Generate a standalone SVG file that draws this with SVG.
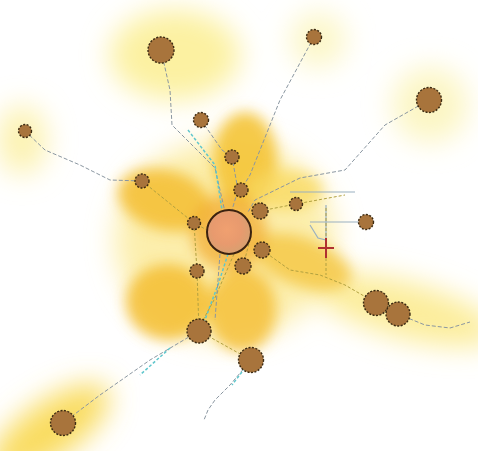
<svg xmlns="http://www.w3.org/2000/svg" width="478" height="451" viewBox="0 0 478 451">
<defs>
<filter id="blur" x="-50%" y="-50%" width="200%" height="200%"><feGaussianBlur stdDeviation="14"/></filter>
<filter id="blur2" x="-50%" y="-50%" width="200%" height="200%"><feGaussianBlur stdDeviation="7"/></filter>
<radialGradient id="cg" cx="0.45" cy="0.45" r="0.55"><stop offset="0" stop-color="#f0a070"/><stop offset="0.6" stop-color="#e89a6e"/><stop offset="1" stop-color="#d8a070"/></radialGradient>
<style>
.n{fill:#a8743c;stroke:#3b2a12;stroke-width:1.4;stroke-dasharray:2 1.5}
.e{fill:none;stroke:#8a96a0;stroke-width:1;stroke-dasharray:4 2}
.c{fill:none;stroke:#5fc6cc;stroke-width:1.5;stroke-dasharray:3 2}
.g{fill:none;stroke:#b0a040;stroke-width:1;stroke-dasharray:3 2}
.b{fill:none;stroke:#9ab0c0;stroke-width:1.2}
</style>
</defs>
<rect width="478" height="451" fill="#ffffff"/>
<g id="glow">
<g filter="url(#blur)">
<ellipse cx="175" cy="55" rx="65" ry="45" fill="#fbee90" opacity="0.85"/>
<ellipse cx="22" cy="140" rx="25" ry="35" fill="#fbee98" opacity="0.75"/>
<ellipse cx="318" cy="40" rx="28" ry="28" fill="#fbf3b0" opacity="0.7"/>
<ellipse cx="430" cy="105" rx="38" ry="38" fill="#fbf3b0" opacity="0.75"/>
<ellipse cx="50" cy="430" rx="70" ry="28" fill="#f8d850" opacity="0.9" transform="rotate(-35 50 430)"/>
<ellipse cx="405" cy="310" rx="95" ry="28" fill="#fbea88" opacity="0.85" transform="rotate(15 405 310)"/>
<ellipse cx="225" cy="240" rx="110" ry="100" fill="#fbe890" opacity="0.75"/>
</g>
<g filter="url(#blur2)">
<ellipse cx="245" cy="160" rx="32" ry="48" fill="#f4c438" opacity="0.9"/>
<ellipse cx="165" cy="200" rx="48" ry="30" fill="#f4c038" opacity="0.9" transform="rotate(15 165 200)"/>
<ellipse cx="168" cy="302" rx="42" ry="38" fill="#f4c038" opacity="0.9"/>
<ellipse cx="242" cy="310" rx="34" ry="42" fill="#f4c038" opacity="0.85"/>
<ellipse cx="302" cy="262" rx="52" ry="24" fill="#f5c848" opacity="0.85" transform="rotate(20 302 262)"/>
<ellipse cx="285" cy="190" rx="38" ry="20" fill="#f8d860" opacity="0.75"/>
<ellipse cx="229" cy="232" rx="38" ry="38" fill="#f2ac30" opacity="0.75"/>
</g>
</g>
<g id="connectors">
<path class="e" d="M161 50 L170 90 L172 125 L215 168 L225 212"/>
<path class="e" d="M25 131 L45 150 L80 165 L110 180 L142 181"/>
<path class="g" d="M142 181 L194 223 L207 230"/>
<path class="e" d="M201 120 L222 150 L232 157 L238 190 L232 210"/>
<path class="c" d="M188 130 L215 165 L222 210"/>
<path class="e" d="M314 37 L280 100 L250 175 L241 190"/>
<path class="e" d="M429 100 L385 125 L345 170 L300 178 L255 200 L248 212"/>
<path class="g" d="M260 211 L296 204 L345 195"/>
<path class="b" d="M290 192 L355 192"/>
<path class="b" d="M310 222 L366 222"/>
<path class="b" d="M310 225 L318 238 L326 240 L326 205"/>
<path class="g" d="M326 208 L326 275"/>
<path class="g" d="M194 223 L197 271 L199 331"/>
<path class="c" d="M228 254 L218 285 L203 325"/>
<path class="g" d="M234 254 L214 300 L203 320"/>
<path class="e" d="M199 331 L150 360 L100 395 L63 423"/>
<path class="c" d="M170 348 L140 375"/>
<path class="g" d="M199 331 L251 360"/>
<path class="e" d="M251 360 L230 385 L215 400 L208 410 L204 420"/>
<path class="c" d="M245 368 L232 385"/>
<path class="g" d="M262 250 L290 270 L320 275 L345 285 L376 303"/>
<path class="e" d="M398 314 L425 325 L450 328 L470 322"/>
<path class="g" d="M243 266 L250 240"/>
<path class="e" d="M220 254 L215 320"/>
</g>
<g id="cross">
<path d="M326 238 L326 258 M318 248 L334 248" stroke="#b03030" stroke-width="2"/>
</g>
<g id="center"><circle cx="229" cy="232" r="22" fill="url(#cg)" stroke="#3b2210" stroke-width="2"/></g>
<g id="n1"><circle class="n" cx="161" cy="50" r="13"/></g>
<g id="n2"><circle class="n" cx="25" cy="131" r="6.5"/></g>
<g id="n3"><circle class="n" cx="142" cy="181" r="7"/></g>
<g id="n4"><circle class="n" cx="201" cy="120" r="7.5"/></g>
<g id="n5"><circle class="n" cx="232" cy="157" r="7"/></g>
<g id="n6"><circle class="n" cx="241" cy="190" r="7"/></g>
<g id="n7"><circle class="n" cx="260" cy="211" r="8"/></g>
<g id="n8"><circle class="n" cx="296" cy="204" r="6.5"/></g>
<g id="n9"><circle class="n" cx="366" cy="222" r="7.5"/></g>
<g id="n10"><circle class="n" cx="314" cy="37" r="7.5"/></g>
<g id="n11"><circle class="n" cx="429" cy="100" r="12.5"/></g>
<g id="n12"><circle class="n" cx="194" cy="223" r="6.5"/></g>
<g id="n13"><circle class="n" cx="197" cy="271" r="7"/></g>
<g id="n14"><circle class="n" cx="243" cy="266" r="8"/></g>
<g id="n15"><circle class="n" cx="262" cy="250" r="8"/></g>
<g id="n16"><circle class="n" cx="199" cy="331" r="12"/></g>
<g id="n17"><circle class="n" cx="251" cy="360" r="12.5"/></g>
<g id="n18"><circle class="n" cx="63" cy="423" r="12.5"/></g>
<g id="n19"><circle class="n" cx="376" cy="303" r="12.5"/></g>
<g id="n20"><circle class="n" cx="398" cy="314" r="12"/></g>
</svg>
